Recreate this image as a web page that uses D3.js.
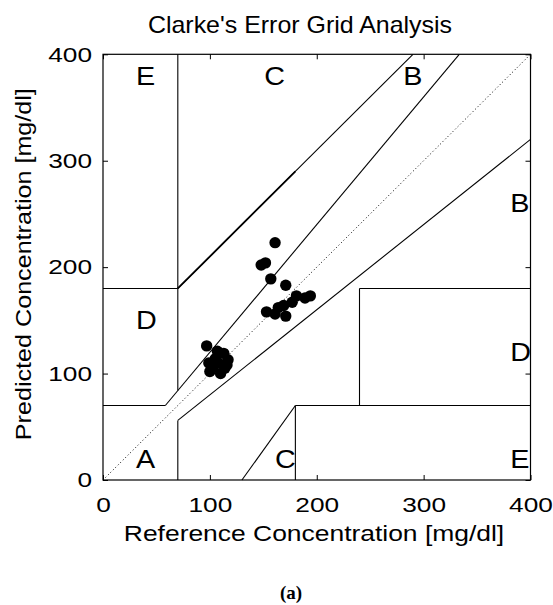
<!DOCTYPE html>
<html>
<head>
<meta charset="utf-8">
<script src="https://cdn.jsdelivr.net/npm/d3@7"></script>
<style>
  html, body { margin: 0; padding: 0; background: #fff; }
  svg { display: block; }
  text { font-family: "Liberation Sans", Arial, sans-serif; fill: #000; }
</style>
</head>
<body>
<svg id="chart" width="553" height="605"></svg>
<script>
// ---- Data ----
const titleText = "Clarke's Error Grid Analysis";
const xLabelText = "Reference Concentration [mg/dl]";
const yLabelText = "Predicted Concentration [mg/dl]";
const captionText = "(a)";

const xTicks = [0, 100, 200, 300, 400];
const yTicks = [0, 100, 200, 300, 400];

// Measured (reference) vs predicted glucose values
const refValues  = [161, 148, 152, 157, 171, 97, 153, 161, 171, 164, 169, 177, 181, 189, 194,
                    100, 103, 108, 113, 117, 110, 105, 114, 99, 107, 116];
const predValues = [223, 202, 204, 189, 183, 126, 158, 156, 154, 162, 164, 167, 173, 171, 173,
                    102, 106, 110, 119, 113, 100, 114, 105, 110, 121, 108];

// Zone boundary segments [x1, y1, x2, y2]
const zoneLines = [
  [0, 70, 175/3, 70],
  [175/3, 70, 400/1.2, 400],
  [70, 84, 70, 400],
  [0, 180, 70, 180],
  [70, 180, 290, 400],
  [70, 180, 180, 290],
  [70, 0, 70, 56],
  [70, 56, 400, 320],
  [180, 0, 180, 70],
  [180, 70, 400, 70],
  [240, 70, 240, 180],
  [240, 180, 400, 180],
  [130, 0, 180, 70]
];
const zoneNames = ["A", "D", "E", "C", "C", "E", "D", "B", "B"];
const zoneX     = [30, 30, 30, 150, 160, 380, 380, 380, 280];
const zoneY     = [20, 150, 380, 380, 20, 20, 120, 260, 380];

// ---- Drawing ----
const svg = d3.select("#chart");
const L = 103, R = 530.5, T = 54.3, B = 480;
const x = d3.scaleLinear().domain([0, 400]).range([L, R]);
const y = d3.scaleLinear().domain([0, 400]).range([B, T]);

// text helper with horizontal stretch
function stretchedText(parent, px, py, str, size, sx, anchor, rot) {
  return parent.append("text")
    .attr("transform", `translate(${px},${py})` + (rot ? ` rotate(${rot})` : "") + ` scale(${sx},1)`)
    .attr("text-anchor", anchor || "start")
    .style("font-size", size + "px")
    .text(str);
}

// Title
stretchedText(svg, 300, 33, titleText, 24, 1.04, "middle");

// Diagonal dotted line
svg.append("line")
  .attr("x1", x(0)).attr("y1", y(0)).attr("x2", x(400)).attr("y2", y(400))
  .attr("stroke", "#000").attr("stroke-width", 1).attr("stroke-dasharray", "1,2.5");

// Zone lines
svg.append("g").selectAll("line").data(zoneLines).join("line")
  .attr("x1", d => x(d[0])).attr("y1", d => y(d[1]))
  .attr("x2", d => x(d[2])).attr("y2", d => y(d[3]))
  .attr("stroke", "#000").attr("stroke-width", (d, i) => i === 5 ? 1.8 : 1.1);

// Zone labels
const zg = svg.append("g");
zoneNames.forEach((d, i) => {
  stretchedText(zg, x(zoneX[i]) + 1, y(zoneY[i]), d, 25, 1.15, "start").attr("dy", "0.36em");
});

// Points
svg.append("g").selectAll("circle").data(refValues).join("circle")
  .attr("cx", (d, i) => x(d)).attr("cy", (d, i) => y(predValues[i]))
  .attr("r", 5.7).attr("fill", "#000");

// Axes
const tickSx = 1.25;
const gx = svg.append("g").attr("transform", `translate(0,${B})`)
  .call(d3.axisBottom(x).tickValues(xTicks).tickSize(-5).tickPadding(17));
const gxt = svg.append("g").attr("transform", `translate(0,${T})`)
  .call(d3.axisTop(x).tickValues(xTicks).tickSize(-5).tickFormat(""));
const gy = svg.append("g").attr("transform", `translate(${L},0)`)
  .call(d3.axisLeft(y).tickValues(yTicks).tickSize(-5).tickPadding(11));
const gyr = svg.append("g").attr("transform", `translate(${R},0)`)
  .call(d3.axisRight(y).tickValues(yTicks).tickSize(-5).tickFormat(""));
[gx, gxt, gy, gyr].forEach(g => {
  g.select(".domain").remove();
  g.selectAll("line").attr("stroke", "#000");
  g.selectAll("text").style("font-size", "21px")
    .style("font-family", "Liberation Sans, Arial, sans-serif").attr("fill", "#000");
});
gx.selectAll("text").attr("transform", `scale(${tickSx},1)`);
gy.selectAll("text").attr("x", -11 / tickSx).attr("transform", `scale(${tickSx},1)`);

// Box
svg.append("rect").attr("x", L).attr("y", T).attr("width", R - L).attr("height", B - T)
  .attr("fill", "none").attr("stroke", "#000").attr("stroke-width", 1.2);

// Axis labels
stretchedText(svg, 314, 541, xLabelText, 21.5, 1.23, "middle");
stretchedText(svg, 31, (T + B) / 2 - 3, yLabelText, 21.5, 1.17, "middle", -90);

// Caption
svg.append("text").attr("x", 291).attr("y", 599).attr("text-anchor", "middle")
  .style("font-family", "Liberation Serif, Times New Roman, serif").style("font-weight", "bold")
  .style("font-size", "19px").text(captionText);
</script>
</body>
</html>
